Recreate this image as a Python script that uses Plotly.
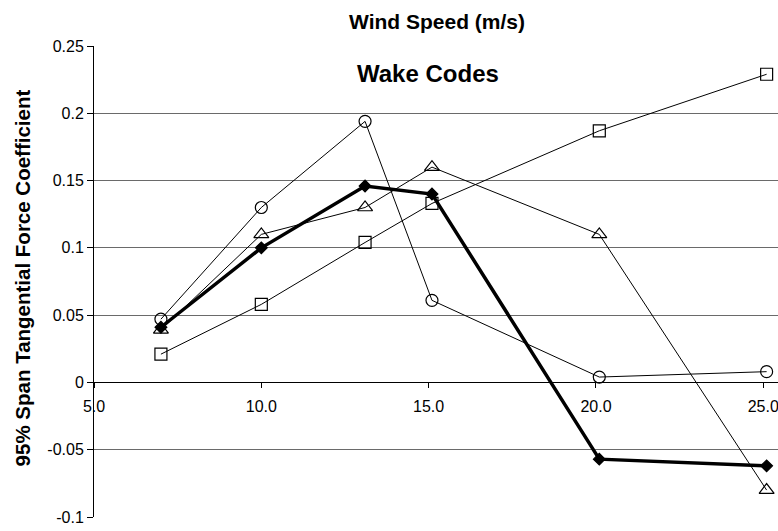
import plotly.graph_objects as go

wind_speed = [7.0, 10.0, 13.1, 15.1, 20.1, 25.1]
circle_vals = [0.047, 0.130, 0.194, 0.061, 0.004, 0.008]
triangle_vals = [0.039, 0.110, 0.130, 0.160, 0.110, -0.080]
square_vals = [0.021, 0.058, 0.104, 0.133, 0.187, 0.229]
diamond_vals = [0.041, 0.100, 0.146, 0.140, -0.057, -0.062]

x_ticks = [5, 10, 15, 20, 25]
x_tick_labels = ["5.0", "10.0", "15.0", "20.0", "25.0"]
y_ticks = [-0.1, -0.05, 0, 0.05, 0.1, 0.15, 0.2, 0.25]
y_tick_labels = ["-0.1", "-0.05", "0", "0.05", "0.1", "0.15", "0.2", "0.25"]

FONT = "Liberation Sans, Arial, sans-serif"

fig = go.Figure()

def add_series(y, symbol, size, lw):
    fig.add_trace(go.Scatter(
        x=wind_speed, y=y, mode="lines+markers",
        line=dict(color="black", width=lw),
        marker=dict(symbol=symbol, size=size, color="black",
                    line=dict(color="black", width=1.2)),
        cliponaxis=False, showlegend=False))

add_series(circle_vals, "circle-open", 12, 1)
add_series(triangle_vals, "triangle-up-open", 13, 1)
add_series(square_vals, "square-open", 12, 1)
add_series(diamond_vals, "diamond", 9, 3.5)

fig.update_layout(
    width=778, height=531,
    margin=dict(l=94, r=0, t=46, b=14),
    paper_bgcolor="white", plot_bgcolor="white",
    font=dict(family=FONT, color="black", size=16),
    xaxis=dict(
        range=[5, 25.44], tickvals=x_ticks, ticktext=x_tick_labels,
        showgrid=False, zeroline=False,
        showline=True, linecolor="black", linewidth=1,
        ticks="outside", ticklen=5, tickcolor="black",
        anchor="free", position=0.2857,
        ticklabeloverflow="allow", ticklabelstandoff=4,
        tickfont=dict(size=16, family=FONT),
    ),
    yaxis=dict(
        range=[-0.1, 0.25], tickvals=y_ticks, ticktext=y_tick_labels,
        showgrid=True, gridcolor="#6a6a6a", gridwidth=1, zeroline=False,
        showline=True, linecolor="black", linewidth=1,
        ticks="outside", ticklen=6, tickcolor="black",
        tickfont=dict(size=16, family=FONT),
        domain=[0, 1],
    ),
    annotations=[
        dict(text="Wind Speed (m/s)", xref="paper", yref="paper",
             x=0.502, y=1.053, xanchor="center", yanchor="middle",
             showarrow=False, font=dict(size=21, family=FONT, weight="bold")),
        dict(text="Wake Codes", xref="paper", yref="paper",
             x=0.488, y=0.9426, xanchor="center", yanchor="middle",
             showarrow=False, font=dict(size=24, family=FONT, weight="bold")),
        dict(text="95% Span Tangential Force Coefficient", xref="paper", yref="paper",
             x=-0.105, y=0.507, xanchor="center", yanchor="middle", textangle=-90,
             showarrow=False, font=dict(size=20.5, family=FONT, weight="bold")),
    ],
)

fig.write_html("out.html",
               config={"displayModeBar": False},
               post_script="document.body.style.margin='0';document.body.style.overflow='hidden';")
